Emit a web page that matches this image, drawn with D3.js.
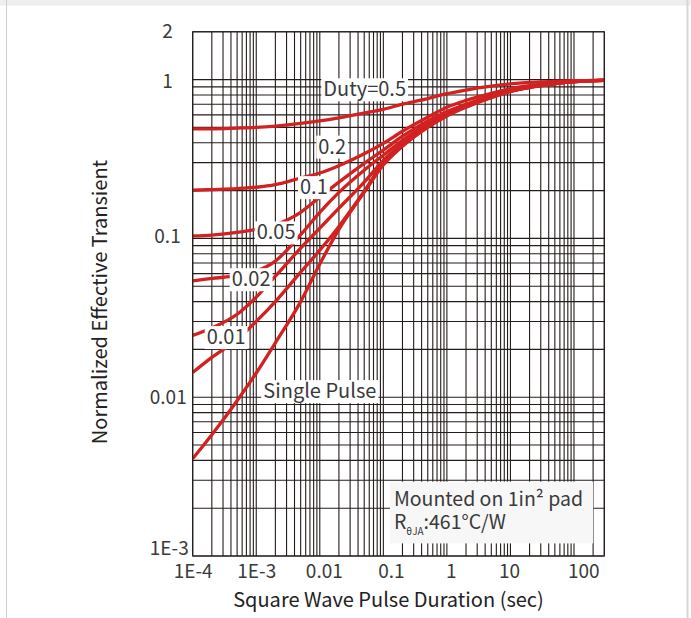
<!DOCTYPE html>
<html>
<head>
<meta charset="utf-8">
<script src="https://cdn.jsdelivr.net/npm/d3@7"></script>
<style>
  html, body { margin: 0; padding: 0; background: #fff; }
  svg text { font-family: "Noto Sans CJK SC", "Noto Sans", sans-serif; }
</style>
</head>
<body>
<div id="chart"></div>
<script>
const pulseTimes = [1e-4, 2e-4, 5e-4, 1e-3, 2e-3, 5e-3, 1e-2, 2e-2, 5e-2, 0.1, 0.2, 0.5, 1, 2, 5, 10, 20, 50, 100, 300];

// normalized effective transient, one list per duty cycle
const duty50 = [0.49, 0.49, 0.495, 0.50, 0.51, 0.53, 0.55, 0.575, 0.615, 0.65, 0.70, 0.76, 0.815, 0.86, 0.91, 0.94, 0.96, 0.975, 0.985, 0.99];
const duty20 = [0.201, 0.203, 0.206, 0.21, 0.218, 0.24, 0.258, 0.287, 0.341, 0.397, 0.473, 0.58, 0.67, 0.74, 0.82, 0.875, 0.915, 0.953, 0.976, 0.992];
const duty10 = [0.1037, 0.105, 0.109, 0.114, 0.122, 0.146, 0.182, 0.226, 0.297, 0.36, 0.44, 0.55, 0.63, 0.70, 0.79, 0.855, 0.90, 0.945, 0.972, 0.99];
const duty05 = [0.054, 0.056, 0.0582, 0.0622, 0.072, 0.1055, 0.146, 0.195, 0.269, 0.334, 0.415, 0.525, 0.61, 0.686, 0.78, 0.848, 0.895, 0.943, 0.971, 0.99];
const duty02 = [0.0245, 0.0273, 0.0333, 0.0427, 0.0578, 0.0868, 0.116, 0.155, 0.226, 0.31, 0.395, 0.51, 0.60, 0.68, 0.778, 0.847, 0.896, 0.943, 0.971, 0.99];
const duty01 = [0.0143, 0.0178, 0.0231, 0.030, 0.040, 0.0613, 0.0843, 0.119, 0.198, 0.30, 0.385, 0.505, 0.595, 0.675, 0.775, 0.845, 0.895, 0.942, 0.97, 0.99];
const singlePulse = [0.0041, 0.0058, 0.0095, 0.0142, 0.022, 0.040, 0.069, 0.114, 0.195, 0.29, 0.38, 0.50, 0.59, 0.67, 0.77, 0.84, 0.89, 0.94, 0.97, 0.99];

// curve labels and where they sit (pulse time, value at text baseline)
const labelText = ["Duty=0.5", "0.2", "0.1", "0.05", "0.02", "0.01", "Single Pulse"];
const labelT = [0.01135, 0.00946, 0.00488, 1.016e-3, 4.11e-4, 1.66e-4, 1.29e-3];
const labelR = [0.785, 0.342, 0.19, 0.0985, 0.05, 0.0216, 0.00987];

// axis ticks
const xTicks = [1e-4, 1e-3, 1e-2, 0.1, 1, 10, 100];
const xTickLabels = ["1E-4", "1E-3", "0.01", "0.1", "1", "10", "100"];
const yTicks = [1e-3, 0.01, 0.1, 1, 2];
const yTickLabels = ["1E-3", "0.01", "0.1", "1", "2"];

const width = 691, height = 618;

const svg = d3.select("#chart")
    .append("svg")
    .attr("width", width)
    .attr("height", height);

// page frame
svg.append("rect").attr("x", 0).attr("y", 0).attr("width", width).attr("height", height).attr("fill", "#fff");
svg.append("rect").attr("x", 0).attr("y", 0).attr("width", width).attr("height", 5.5).attr("fill", "#eeeeee");
svg.append("line").attr("x1", 6.5).attr("x2", 6.5).attr("y1", 0).attr("y2", height)
    .attr("stroke", "#cfcfcf").attr("stroke-width", 1);
svg.append("line").attr("x1", 687.5).attr("x2", 687.5).attr("y1", 0).attr("y2", height)
    .attr("stroke", "#d6d6d6").attr("stroke-width", 2);

const x = d3.scaleLog().domain([1e-4, 300]).range([192.7, 604.3]);
const y = d3.scaleLog().domain([1e-3, 2]).range([556, 31.8]);

// log grid: every 1..9 of each decade
const gridX = [];
for (let e = -4; e <= 1; e++) for (let k = 1; k <= 9; k++) gridX.push(k * Math.pow(10, e));
gridX.push(100, 200, 300);
const gridY = [];
for (let e = -3; e <= -1; e++) for (let k = 1; k <= 9; k++) gridY.push(k * Math.pow(10, e));
gridY.push(1, 2);

const gridColor = "#231c1a";
const grid = svg.append("g");
grid.selectAll(".vx").data(gridX).join("line")
    .attr("x1", d => x(d)).attr("x2", d => x(d))
    .attr("y1", y(2)).attr("y2", y(1e-3))
    .attr("stroke", gridColor).attr("stroke-width", 1.1);
grid.selectAll(".hy").data(gridY).join("line")
    .attr("x1", x(1e-4)).attr("x2", x(300))
    .attr("y1", d => y(d)).attr("y2", d => y(d))
    .attr("stroke", gridColor).attr("stroke-width", 1.1);

// curves
const series = [duty50, duty20, duty10, duty05, duty02, duty01, singlePulse];

svg.append("clipPath").attr("id", "plotclip")
    .append("rect")
    .attr("x", x(1e-4)).attr("y", y(2))
    .attr("width", x(300) - x(1e-4)).attr("height", y(1e-3) - y(2));

const line = d3.line()
    .x((d, i) => x(pulseTimes[i]))
    .y(d => y(d))
    .curve(d3.curveMonotoneX);

svg.append("g").attr("clip-path", "url(#plotclip)")
    .selectAll("path").data(series).join("path")
    .attr("d", line)
    .attr("fill", "none")
    .attr("stroke", "#d22121")
    .attr("stroke-width", 3.3);

// curve labels on white boxes
const labelSize = 20;
labelText.forEach((t, i) => {
    const g = svg.append("g");
    const bg = g.append("rect").attr("fill", "#fff");
    const txt = g.append("text")
        .attr("x", x(labelT[i]))
        .attr("y", y(labelR[i]))
        .attr("font-size", labelSize)
        .attr("fill", "#3a3a3a")
        .text(t);
    const w = txt.node().getComputedTextLength();
    bg.attr("x", x(labelT[i]) - 2)
        .attr("y", y(labelR[i]) - 0.9 * labelSize)
        .attr("width", w + 4)
        .attr("height", 1.15 * labelSize);
});

// mounting note (one text element, two lines)
const boxT = [0.127, 201];
const boxR = [0.00294, 0.0012];
const note = svg.append("g");
note.append("rect")
    .attr("x", x(boxT[0])).attr("y", y(boxR[0]))
    .attr("width", x(boxT[1]) - x(boxT[0]))
    .attr("height", y(boxR[1]) - y(boxR[0]))
    .attr("fill", "#f7f7f7");
const noteText = note.append("text")
    .attr("x", x(boxT[0]) + 4).attr("y", y(boxR[0]) + 24.5)
    .attr("font-size", 19.5).attr("fill", "#3a3a3a");
noteText.append("tspan").text("Mounted on 1in² pad");
noteText.append("tspan").attr("x", x(boxT[0]) + 4).attr("dy", 23).text("R");
noteText.append("tspan").attr("font-size", 10).attr("dy", 5.5).text("θJA");
noteText.append("tspan").attr("dy", -5.5).text(":461°C/W");

// axes (labels only, grid already drawn)
const xNudge = [0, 0, 4, 7.5, 4, -1.5, 9.3];
const xAxis = svg.append("g")
    .attr("transform", `translate(0,${y(1e-3)})`)
    .call(d3.axisBottom(x).tickValues(xTicks)
        .tickFormat(d => xTickLabels[xTicks.indexOf(d)]).tickSize(0))
    .attr("font-size", 19)
    .attr("font-family", null)
    .attr("color", "#3a3a3a");
xAxis.select(".domain").remove();
xAxis.selectAll("text")
    .attr("y", 22).attr("dy", null)
    .attr("dx", d => xNudge[xTicks.indexOf(d)]);

const yNudgeX = [8, 6, 0, -8, -8];
const yNudgeY = [-8, 0, -2.5, 1.5, -1];
const yAxis = svg.append("g")
    .attr("transform", `translate(${x(1e-4)},0)`)
    .call(d3.axisLeft(y).tickValues(yTicks)
        .tickFormat(d => yTickLabels[yTicks.indexOf(d)]).tickSize(0))
    .attr("font-size", 19)
    .attr("font-family", null)
    .attr("color", "#3a3a3a");
yAxis.select(".domain").remove();
yAxis.selectAll("text")
    .attr("x", d => -12 + yNudgeX[yTicks.indexOf(d)])
    .attr("dy", d => (6.5 + yNudgeY[yTicks.indexOf(d)]) + "px");

// plot frame on top
svg.append("rect")
    .attr("x", x(1e-4)).attr("y", y(2))
    .attr("width", x(300) - x(1e-4)).attr("height", y(1e-3) - y(2))
    .attr("fill", "none").attr("stroke", gridColor).attr("stroke-width", 1.1);

// axis titles
svg.append("text")
    .attr("x", 388.5).attr("y", 606.5)
    .attr("text-anchor", "middle")
    .attr("font-size", 20).attr("fill", "#222")
    .text("Square Wave Pulse Duration (sec)");
svg.append("text")
    .attr("transform", "translate(107,302) rotate(-90)")
    .attr("text-anchor", "middle")
    .attr("font-size", 20).attr("fill", "#222")
    .text("Normalized Effective Transient");
</script>
</body>
</html>
